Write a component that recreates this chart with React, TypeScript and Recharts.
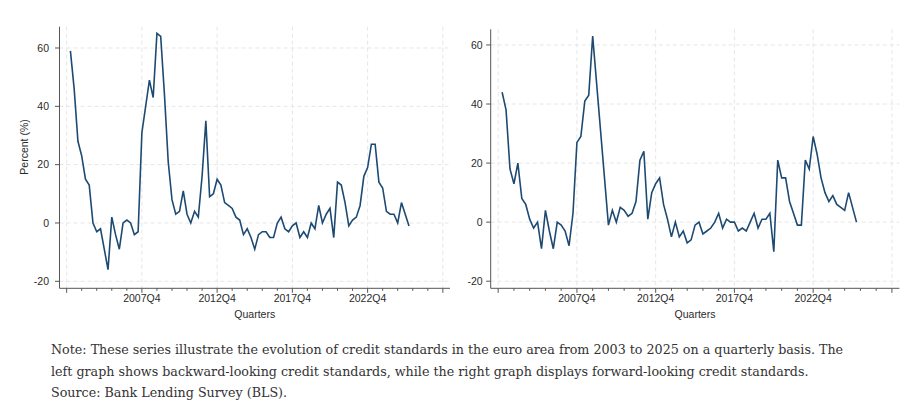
import { LineChart, Line, XAxis, YAxis, CartesianGrid } from "recharts";

// quarterly index: 1 = 2003Q1 ... 91 = 2025Q3 (0 = 2002Q4)
const backward = [
  59, 46, 28, 23, 15, 13, 0, -3, -2, -9,
  -16, 2, -4, -9, 0, 1, 0, -4, -3, 31,
  40, 49, 43, 65, 64, 44, 21, 8, 3, 4,
  11, 3, 0, 4, 2, 16, 35, 9, 10, 15,
  13, 7, 6, 5, 2, 1, -4, -2, -5, -9,
  -4, -3, -3, -5, -5, 0, 2, -2, -3, -1,
  0, -5, -3, -5, 0, -2, 6, 0, 3, 5,
  -5, 14, 13, 7, -1, 1, 2, 6, 16, 19,
  27, 27, 14, 12, 4, 3, 3, 0, 7, 3,
  -1,
];

const forward = [
  44, 38, 18, 13, 20, 8, 6, 1, -2, 0,
  -9, 4, -3, -9, 0, -1, -3, -8, 3, 27,
  29, 41, 43, 63, 47, 31, 15, -1, 4, 0,
  5, 4, 2, 3, 7, 21, 24, 1, 10, 13,
  15, 6, 1, -5, 0, -5, -3, -7, -6, -1,
  0, -4, -3, -2, 0, 3, -2, 1, 0, 0,
  -3, -2, -3, 0, 3, -2, 1, 1, 3, -10,
  21, 15, 15, 7, 3, -1, -1, 21, 18, 29,
  23, 15, 10, 7, 9, 6, 5, 4, 10, 5,
  0,
];

const yearTicks = [0, 4, 8, 12, 16, 20, 24, 28, 32, 36, 40, 44, 48, 52, 56, 60, 64, 68, 72, 76, 80, 84, 88, 92, 96, 100];
const majorTicks = [0, 20, 40, 60, 80, 100];
const labelTicks = [20, 40, 60, 80];
const xTickLabels = ["2007Q4", "2012Q4", "2017Q4", "2022Q4"];
const yTicks = [-20, 0, 20, 40, 60];

const data = backward.map((v, i) => ({ q: i + 1, backward: v, forward: forward[i] }));

const AXIS = "#555";
const LINE = "#1d4a72";
const GRID = "#e6e6e6";
const FONT = "'Liberation Sans', Arial, sans-serif";

function XTick(props: any) {
  const { x, y, payload } = props;
  const v = payload.value;
  const major = majorTicks.includes(v);
  const idx = labelTicks.indexOf(v);
  return (
    <g>
      <line x1={x} x2={x} y1={y} y2={y + (major ? 4.5 : 2.5)} stroke={AXIS} strokeWidth={1} />
      {idx >= 0 && (
        <text x={x} y={y + 14} textAnchor="middle" fontSize={10.5} fontFamily={FONT} fill="#2a2a2a">
          {xTickLabels[idx]}
        </text>
      )}
    </g>
  );
}

function makeYTick(gap: number) {
  return (props: any) => {
    const { x, y, payload } = props;
    return (
      <g>
        <line x1={x - 4.5} x2={x} y1={y} y2={y} stroke={AXIS} strokeWidth={1} />
        <text x={x - gap} y={y} dy="0.36em" textAnchor="end" fontSize={10.5} fontFamily={FONT} fill="#2a2a2a">
          {payload.value}
        </text>
      </g>
    );
  };
}

interface PanelProps {
  dataKey: string;
  width: number;
  yAxisWidth: number;
  right: number;
  top: number;
  yMax: number;
  gap: number;
  yLabel?: string;
}

function Panel({ dataKey, width, yAxisWidth, right, top, yMax, gap, yLabel }: PanelProps) {
  return (
    <LineChart width={width} height={330} data={data} margin={{ top, right, bottom: 9.7, left: 0 }}>
      <CartesianGrid stroke={GRID} strokeDasharray="4 3" horizontalValues={yTicks} verticalValues={majorTicks} />
      <XAxis
        dataKey="q"
        type="number"
        domain={[-1.9, 101.9]}
        allowDataOverflow
        ticks={yearTicks}
        interval={0}
        height={32}
        tickSize={0}
        tickMargin={0}
        tickLine={false}
        tick={<XTick />}
        axisLine={{ stroke: AXIS }}
        label={{ value: "Quarters", position: "insideBottom", offset: 2, fill: "#2a2a2a", fontSize: 10.5, fontFamily: FONT }}
      />
      <YAxis
        type="number"
        domain={[-22.4, yMax]}
        allowDataOverflow
        ticks={yTicks}
        interval={0}
        width={yAxisWidth}
        tickSize={0}
        tickMargin={0}
        tickLine={false}
        tick={makeYTick(gap)}
        axisLine={{ stroke: AXIS }}
        label={
          yLabel
            ? () => (
                <text x={23.8} y={147} transform="rotate(-90 23.8 147)" textAnchor="middle" dy="0.36em"
                  fontSize={10.5} fontFamily={FONT} fill="#2a2a2a">
                  {yLabel}
                </text>
              )
            : undefined
        }
      />
      <Line type="linear" dataKey={dataKey} stroke={LINE} strokeWidth={1.6} dot={false} isAnimationActive={false} />
    </LineChart>
  );
}

export default function App() {
  return (
    <div style={{ position: "absolute", left: 0, top: 0, width: 917, height: 415, background: "#fff" }}>
      <div style={{ position: "absolute", left: 0, top: 0 }}>
        <Panel dataKey="backward" width={460} yAxisWidth={59.5} right={10} top={26.7} yMax={67.3} gap={10.5} yLabel="Percent (%)" />
      </div>
      <div style={{ position: "absolute", left: 460, top: 0 }}>
        <Panel dataKey="forward" width={457} yAxisWidth={30.7} right={17.6} top={29.3} yMax={65.3} gap={8} />
      </div>
      <div
        style={{
          position: "absolute",
          left: 51,
          top: 339,
          fontFamily: "'DejaVu Serif', 'Liberation Serif', serif",
          fontSize: 12.7,
          lineHeight: "21.7px",
          color: "#333",
          whiteSpace: "nowrap",
        }}
      >
        <div>Note: These series illustrate the evolution of credit standards in the euro area from 2003 to 2025 on a quarterly basis. The</div>
        <div>left graph shows backward-looking credit standards, while the right graph displays forward-looking credit standards.</div>
        <div>Source: Bank Lending Survey (BLS).</div>
      </div>
    </div>
  );
}
